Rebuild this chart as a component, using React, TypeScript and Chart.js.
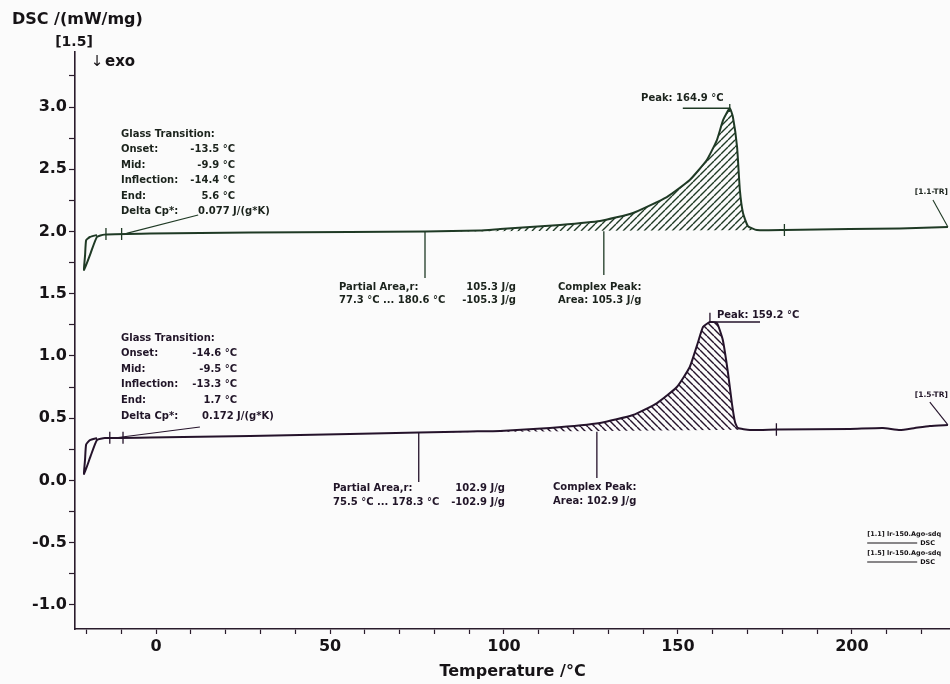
import { useEffect, useRef } from 'react';
import { Chart, registerables } from 'chart.js';

Chart.register(...registerables);

// ---------- measured curves: temperature (°C) and DSC signal (mW/mg) ----------
// run [1.1]
const run11Temp = [-17.0, -19.0, -20.1, -20.4, -20.7, -18.8, -17.0, -14.9, -1.7, 27.0, 55.7, 77.3, 93.0, 98.9, 107.5, 116.1, 127.6, 137.1, 146.8, 153.4, 158.3, 161.2, 163.0, 164.9, 165.8, 167.0, 167.8, 168.7, 170.1, 172.7, 180.6, 199.4, 213.8, 227.6];
const run11Dsc = [1.972, 1.956, 1.93, 1.811, 1.691, 1.827, 1.956, 1.975, 1.984, 1.992, 1.996, 2.0, 2.008, 2.02, 2.036, 2.052, 2.084, 2.149, 2.277, 2.414, 2.574, 2.735, 2.896, 2.99, 2.92, 2.679, 2.333, 2.149, 2.044, 2.012, 2.012, 2.02, 2.024, 2.036];
// run [1.5]
const run15Temp = [-17.0, -19.0, -20.1, -20.4, -20.7, -18.8, -17.0, -14.7, -1.7, 27.0, 55.7, 75.5, 90.2, 98.9, 113.2, 127.6, 137.1, 144.0, 149.7, 153.4, 155.7, 157.2, 159.2, 161.2, 162.9, 164.4, 165.5, 166.4, 167.2, 170.7, 178.3, 199.4, 208.9, 213.8, 218.1, 222.4, 227.6];
const run15Dsc = [0.341, 0.325, 0.29, 0.173, 0.052, 0.197, 0.325, 0.341, 0.345, 0.357, 0.373, 0.386, 0.394, 0.398, 0.422, 0.462, 0.526, 0.622, 0.751, 0.912, 1.104, 1.233, 1.273, 1.265, 1.129, 0.863, 0.622, 0.47, 0.422, 0.406, 0.41, 0.414, 0.422, 0.406, 0.422, 0.438, 0.446];

// ---------- evaluation results ----------
const run11Glass = { onset: -13.5, mid: -9.9, inflection: -14.4, end: 5.6, deltaCp: 0.077, level: 1.98 };
const run15Glass = { onset: -14.6, mid: -9.5, inflection: -13.3, end: 1.7, deltaCp: 0.172, level: 0.343 };

const run11Area = { start: 77.3, end: 180.6, startDsc: 2.0, endDsc: 2.012, value: 105.3, complexAt: 128.7 };
const run15Area = { start: 75.5, end: 178.3, startDsc: 0.386, endDsc: 0.41, value: 102.9, complexAt: 126.7 };

const run11Peak = { temp: 164.9, dsc: 2.99 };
const run15Peak = { temp: 159.2, dsc: 1.273 };

// axis ticks
const xTickValues = [-20, -10, 0, 10, 20, 30, 40, 50, 60, 70, 80, 90, 100, 110, 120, 130, 140, 150, 160, 170, 180, 190, 200, 210, 220];
const yTickValues = [-1.0, -0.75, -0.5, -0.25, 0.0, 0.25, 0.5, 0.75, 1.0, 1.25, 1.5, 1.75, 2.0, 2.25, 2.5, 2.75, 3.0, 3.25];

const legendRows = ['[1.1] lr-150.Ago-sdq', '[1.5] lr-150.Ago-sdq'];

// ---------- styling ----------
const FONT = '"DejaVu Sans", "Liberation Sans", sans-serif';
const C11 = '#1f3a25';
const C15 = '#25132b';
const INK11 = '#1b231c';
const INK15 = '#211528';
const INK = '#161316';
const AXIS = '#2a1c2c';

const pts = (t: number[], v: number[]) => t.map((x, i) => ({ x, y: v[i] }));

function hatch(color: string, rising: boolean) {
  const s = 7;
  const c = document.createElement('canvas');
  c.width = s;
  c.height = s;
  const g = c.getContext('2d')!;
  g.strokeStyle = color;
  g.lineWidth = 1.4;
  g.beginPath();
  for (const o of [-s, 0, s]) {
    if (rising) {
      g.moveTo(o, s);
      g.lineTo(o + s, 0);
    } else {
      g.moveTo(o, 0);
      g.lineTo(o + s, s);
    }
  }
  g.stroke();
  return g.createPattern(c, 'repeat')!;
}

function seg(t: number[], v: number[], color: string, width = 1.3) {
  return {
    data: pts(t, v),
    borderColor: color,
    borderWidth: width,
    pointRadius: 0,
    fill: false,
    tension: 0,
  };
}

function markerSets() {
  const g1 = run11Glass;
  const g5 = run15Glass;
  const d = 0.048;
  return [
    // glass transition marks
    seg([g1.inflection, g1.inflection], [g1.level + d, g1.level - d], C11),
    seg([g1.mid, g1.mid], [g1.level + d, g1.level - d], C11),
    seg([g5.inflection, g5.inflection], [g5.level + d, g5.level - d], C15),
    seg([g5.mid, g5.mid], [g5.level + d, g5.level - d], C15),
    // delta Cp leaders
    seg([12.1, -8.5], [2.133, 1.985], C11, 1.1),
    seg([12.6, -10.9], [0.43, 0.345], C15, 1.1),
    // partial area limits and complex peak leaders
    seg([run11Area.start, run11Area.start], [run11Area.startDsc, 1.627], C11),
    seg([run11Area.complexAt, run11Area.complexAt], [2.003, 1.65], C11),
    seg([run11Area.end, run11Area.end], [run11Area.endDsc + d, run11Area.endDsc - d], C11),
    seg([run15Area.start, run15Area.start], [run15Area.startDsc, -0.012], C15),
    seg([run15Area.complexAt, run15Area.complexAt], [0.392, 0.02], C15),
    seg([run15Area.end, run15Area.end], [run15Area.endDsc + 0.05, run15Area.endDsc - 0.05], C15),
    // peak marks
    seg([151.4, run11Peak.temp], [run11Peak.dsc, run11Peak.dsc], C11),
    seg([run11Peak.temp, run11Peak.temp], [run11Peak.dsc + 0.035, run11Peak.dsc - 0.03], C11),
    seg([run15Peak.temp, 173.6], [run15Peak.dsc, run15Peak.dsc], C15),
    seg([run15Peak.temp, run15Peak.temp], [run15Peak.dsc + 0.075, run15Peak.dsc], C15),
    // curve-end leaders
    seg([223.3, 227.6], [2.253, 2.036], C11, 1.1),
    seg([222.4, 227.6], [0.63, 0.446], C15, 1.1),
  ];
}

const labelsPlugin = {
  id: 'dscLabels',
  beforeDraw(chart: any) {
    const { ctx, width, height } = chart;
    ctx.save();
    ctx.fillStyle = '#fbfbfb';
    ctx.fillRect(0, 0, width, height);
    ctx.restore();
  },
  afterDraw(chart: any) {
    const { ctx, chartArea } = chart;
    const xs = chart.scales.x;
    const ys = chart.scales.y;
    const X = (t: number) => xs.getPixelForValue(t);
    const Y = (v: number) => ys.getPixelForValue(v);
    const put = (s: string, px: number, py: number, size: number, align: string, color: string, weight = 'bold') => {
      ctx.font = `${weight} ${size}px ${FONT}`;
      ctx.textAlign = align;
      ctx.textBaseline = 'middle';
      ctx.fillStyle = color;
      ctx.fillText(s, px, py);
    };
    ctx.save();

    // axis header
    put('DSC /(mW/mg)', chartArea.left - 63, chartArea.top - 32, 16, 'left', INK);
    put('[1.5]', chartArea.left - 1, chartArea.top - 10, 14, 'center', INK);
    put('↓', chartArea.left + 22, chartArea.top + 10, 15, 'center', INK, 'normal');
    put('exo', chartArea.left + 30, chartArea.top + 10, 15, 'left', INK);

    // glass transition blocks
    const glass = [
      { g: run11Glass, t: -10.08, v: 2.783, pitch: 15.5, vr: 114, dl: 77, col: INK11 },
      { g: run15Glass, t: -10.08, v: 1.145, pitch: 15.6, vr: 116, dl: 81, col: INK15 },
    ];
    for (const b of glass) {
      const px = X(b.t);
      const py = Y(b.v);
      put('Glass Transition:', px, py, 10, 'left', b.col);
      const rows: [string, number][] = [
        ['Onset:', b.g.onset],
        ['Mid:', b.g.mid],
        ['Inflection:', b.g.inflection],
        ['End:', b.g.end],
      ];
      rows.forEach(([name, val], i) => {
        const ry = py + b.pitch * (i + 1);
        put(name, px, ry, 10, 'left', b.col);
        put(`${val.toFixed(1)} °C`, px + b.vr, ry, 10, 'right', b.col);
      });
      const dy = py + b.pitch * 5;
      put('Delta Cp*:', px, dy, 10, 'left', b.col);
      put(`${b.g.deltaCp.toFixed(3)} J/(g*K)`, px + b.dl, dy, 10, 'left', b.col);
    }

    // partial area and complex peak blocks
    const areas = [
      { a: run11Area, t: 52.58, v: 1.554, right: 177, ct: 115.53, cv: 1.554, pitch: 13, col: INK11 },
      { a: run15Area, t: 50.86, v: -0.06, right: 172, ct: 114.1, cv: -0.052, pitch: 14, col: INK15 },
    ];
    for (const b of areas) {
      const px = X(b.t);
      const py = Y(b.v);
      put('Partial Area,r:', px, py, 10, 'left', b.col);
      put(`${b.a.value.toFixed(1)} J/g`, px + b.right, py, 10, 'right', b.col);
      put(`${b.a.start.toFixed(1)} °C ... ${b.a.end.toFixed(1)} °C`, px, py + b.pitch, 10, 'left', b.col);
      put(`-${b.a.value.toFixed(1)} J/g`, px + b.right, py + b.pitch, 10, 'right', b.col);
      const cx = X(b.ct);
      const cy = Y(b.cv);
      put('Complex Peak:', cx, cy, 10, 'left', b.col);
      put(`Area: ${b.a.value.toFixed(1)} J/g`, cx, cy + b.pitch, 10, 'left', b.col);
    }

    // peak labels
    put(`Peak: ${run11Peak.temp.toFixed(1)} °C`, X(139.4), Y(3.073), 10, 'left', INK11);
    put(`Peak: ${run15Peak.temp.toFixed(1)} °C`, X(161.2), Y(1.329), 10, 'left', INK15);

    // curve tags
    put('[1.1-TR]', X(227.6), Y(2.317), 7.5, 'right', INK11);
    put('[1.5-TR]', X(227.6), Y(0.687), 7.5, 'right', INK15);

    // run legend
    const lx = X(204.4);
    const ly = Y(-0.43);
    legendRows.forEach((name, i) => {
      const base = ly + i * 19;
      put(name, lx, base, 6.5, 'left', INK);
      ctx.strokeStyle = INK;
      ctx.lineWidth = 1.2;
      ctx.beginPath();
      ctx.moveTo(lx, base + 9);
      ctx.lineTo(lx + 50, base + 9);
      ctx.stroke();
      put('DSC', lx + 53, base + 9, 6.5, 'left', INK);
    });

    ctx.restore();
  },
};

export default function App() {
  const ref = useRef<HTMLCanvasElement>(null);

  useEffect(() => {
    const canvas = ref.current;
    if (!canvas) return;

    const datasets: any[] = [
      {
        data: pts(run11Temp, run11Dsc),
        borderColor: C11,
        borderWidth: 2,
        pointRadius: 0,
        tension: 0.15,
        fill: 1,
        backgroundColor: hatch(C11, true),
      },
      {
        data: pts([run11Area.start, run11Area.end], [run11Area.startDsc, run11Area.endDsc]),
        borderWidth: 0,
        borderColor: 'rgba(0,0,0,0)',
        pointRadius: 0,
        fill: false,
      },
      {
        data: pts(run15Temp, run15Dsc),
        borderColor: C15,
        borderWidth: 2,
        pointRadius: 0,
        tension: 0.15,
        fill: 3,
        backgroundColor: hatch(C15, false),
      },
      {
        data: pts([run15Area.start, run15Area.end], [run15Area.startDsc, run15Area.endDsc]),
        borderWidth: 0,
        borderColor: 'rgba(0,0,0,0)',
        pointRadius: 0,
        fill: false,
      },
      ...markerSets(),
    ];

    const tickFont = { family: FONT, size: 16, weight: 'bold' as const };

    const chart = new Chart(canvas, {
      type: 'line',
      data: { datasets },
      options: {
        responsive: false,
        animation: false,
        events: [],
        layout: { padding: { top: 52, left: 0, right: 0, bottom: 0 } },
        plugins: {
          legend: { display: false },
          tooltip: { enabled: false },
        },
        scales: {
          x: {
            type: 'linear',
            position: 'bottom',
            min: -23.3,
            max: 228.2,
            afterBuildTicks: (s: any) => {
              s.ticks = xTickValues.map((value) => ({ value }));
            },
            afterFit: (s: any) => {
              s.height = 55;
            },
            grid: { drawOnChartArea: false, drawTicks: true, tickLength: 5, color: AXIS, tickWidth: 1.2 },
            border: { display: true, color: AXIS, width: 1.6 },
            ticks: {
              autoSkip: false,
              maxRotation: 0,
              padding: 3,
              color: INK,
              font: tickFont,
              callback: (v: any) => (Number(v) % 50 === 0 ? String(v) : ''),
            },
            title: {
              display: true,
              text: 'Temperature /°C',
              color: INK,
              font: tickFont,
              padding: { top: 0, bottom: 3 },
            },
          },
          y: {
            type: 'linear',
            min: -1.193,
            max: 3.442,
            afterBuildTicks: (s: any) => {
              s.ticks = yTickValues.map((value) => ({ value }));
            },
            afterFit: (s: any) => {
              s.width = 75;
            },
            grid: { drawOnChartArea: false, drawTicks: true, tickLength: 6, color: AXIS, tickWidth: 1.2 },
            border: { display: true, color: AXIS, width: 1.6 },
            ticks: {
              autoSkip: false,
              padding: 2,
              color: INK,
              font: tickFont,
              callback: (v: any) => {
                const n = Number(v);
                return Math.abs(n * 2 - Math.round(n * 2)) < 1e-6 ? n.toFixed(1) : '';
              },
            },
          },
        },
      },
      plugins: [labelsPlugin],
    } as any);

    return () => chart.destroy();
  }, []);

  return (
    <div style={{ position: 'fixed', left: 0, top: 0, width: 950, height: 684, background: '#fbfbfb' }}>
      <canvas ref={ref} width={950} height={684} />
    </div>
  );
}
